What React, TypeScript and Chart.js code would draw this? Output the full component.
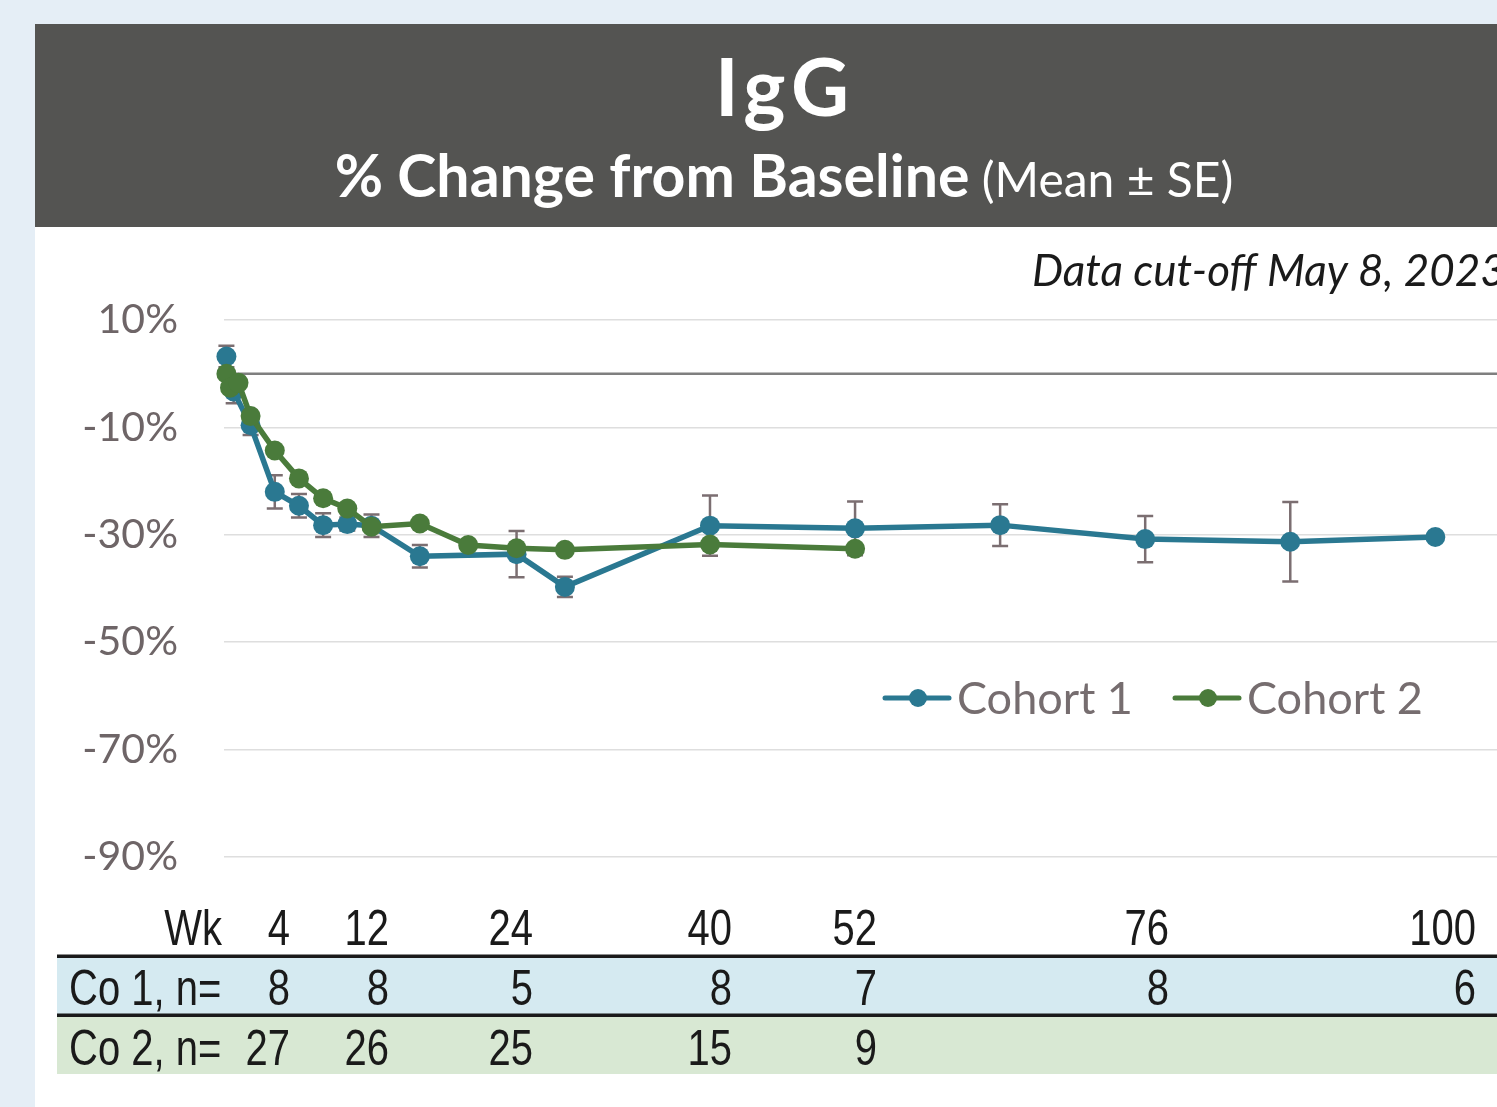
import { useEffect, useRef } from "react";
import { Chart, registerables } from "chart.js";

Chart.register(...registerables);

// ---- data ----
const cohort1Weeks = [0, 0.6, 2, 4, 6, 8, 10, 12, 16, 24, 28, 40, 52, 64, 76, 88, 100];
const cohort1Mean = [3.2, -3.3, -9.6, -22.0, -24.6, -28.2, -28.0, -28.3, -34.0, -33.6, -39.7, -28.3, -28.8, -28.2, -30.8, -31.3, -30.4];
const cohort1SE = [2.0, 2.2, 1.8, 3.1, 2.2, 2.2, 1.2, 2.1, 2.1, 4.3, 1.9, 5.6, 5.0, 3.9, 4.3, 7.4, 0];

const cohort2Weeks = [0, 0.3, 1, 2, 4, 6, 8, 10, 12, 16, 20, 24, 28, 40, 52];
const cohort2Mean = [0, -2.6, -1.7, -7.9, -14.3, -19.5, -23.2, -25.1, -28.5, -27.9, -31.9, -32.5, -32.8, -31.8, -32.6];

const seriesLabels = ["Cohort 1", "Cohort 2"];
const tableWeekLabels = ["4", "12", "24", "40", "52", "76", "100"];
const cohort1N = ["8", "8", "5", "8", "7", "8", "6"];
const cohort2N = ["27", "26", "25", "15", "9", "", ""];

const Y_MIN = -90;
const Y_MAX = 10;
const Y_STEP = 20;

// ---- styles ----
const BLUE = "#2a7891";
const GREEN = "#4a7b3b";
const W = 1497;
const H = 1107;
const FONT = "Lato, 'Open Sans', sans-serif";
const NARROW = "'Liberation Sans', Arial, sans-serif";
const colRight = [290, 389, 533, 732, 877, 1169, 1476];

function narrowText(ctx: CanvasRenderingContext2D, text: string, x: number, y: number, align: CanvasTextAlign) {
  ctx.save();
  ctx.translate(x, y);
  ctx.scale(0.8, 1);
  ctx.textAlign = align;
  ctx.textBaseline = "alphabetic";
  ctx.fillText(text, 0, 0);
  ctx.restore();
}

const backgroundPlugin = {
  id: "pageBackground",
  beforeDraw(chart: any) {
    const ctx: CanvasRenderingContext2D = chart.ctx;
    ctx.save();
    ctx.fillStyle = "#e5eef6";
    ctx.fillRect(0, 0, W, H);
    ctx.fillStyle = "#ffffff";
    ctx.fillRect(35, 227, W - 35, H - 227);
    ctx.fillStyle = "#545452";
    ctx.fillRect(35, 24, W - 35, 203);

    // title
    ctx.fillStyle = "#ffffff";
    ctx.textBaseline = "alphabetic";
    ctx.textAlign = "center";
    ctx.font = `bold 80px ${FONT}`;
    (ctx as any).letterSpacing = "6px";
    ctx.fillText("IgG", 785, 116);
    (ctx as any).letterSpacing = "0px";

    const boldPart = "% Change from Baseline";
    const regPart = " (Mean ± SE)";
    ctx.font = `bold 59px ${FONT}`;
    const w1 = ctx.measureText(boldPart).width;
    ctx.font = `48px ${FONT}`;
    const w2 = ctx.measureText(regPart).width;
    const start = 784 - (w1 + w2) / 2;
    ctx.textAlign = "left";
    ctx.font = `bold 59px ${FONT}`;
    ctx.fillText(boldPart, start, 197);
    ctx.font = `48px ${FONT}`;
    ctx.fillText(regPart, start + w1, 197);

    // cut-off note
    ctx.fillStyle = "#1a1a1a";
    ctx.font = `italic 44px ${FONT}`;
    ctx.fillText("Data cut-off May 8, 2023", 1032, 286);

    // table
    ctx.fillStyle = "#d5eaf1";
    ctx.fillRect(57, 957, W - 57, 57);
    ctx.fillStyle = "#d8e8d3";
    ctx.fillRect(57, 1016, W - 57, 58);
    ctx.fillStyle = "#1a1a1a";
    ctx.fillRect(57, 954.5, W - 57, 3.5);
    ctx.fillRect(57, 1013.5, W - 57, 3.5);

    ctx.fillStyle = "#1a1a1a";
    ctx.font = `50px ${NARROW}`;
    narrowText(ctx, "Wk", 222, 945, "right");
    narrowText(ctx, "Co 1, n=", 69, 1005, "left");
    narrowText(ctx, "Co 2, n=", 69, 1065, "left");
    tableWeekLabels.forEach((t, i) => narrowText(ctx, t, colRight[i], 945, "right"));
    cohort1N.forEach((t, i) => narrowText(ctx, t, colRight[i], 1005, "right"));
    cohort2N.forEach((t, i) => narrowText(ctx, t, colRight[i], 1065, "right"));
    ctx.restore();
  },
};

const zeroAndErrorPlugin = {
  id: "zeroAndError",
  beforeDatasetsDraw(chart: any) {
    const ctx: CanvasRenderingContext2D = chart.ctx;
    const x = chart.scales.x;
    const y = chart.scales.y;
    const area = chart.chartArea;
    ctx.save();
    ctx.strokeStyle = "#7f7f7f";
    ctx.lineWidth = 2.5;
    ctx.beginPath();
    const y0 = y.getPixelForValue(0);
    ctx.moveTo(area.left, y0);
    ctx.lineTo(area.right, y0);
    ctx.stroke();

    ctx.strokeStyle = "#7b6e71";
    ctx.lineWidth = 2.5;
    cohort1Weeks.forEach((w, i) => {
      const se = cohort1SE[i];
      if (!se) return;
      const px = x.getPixelForValue(w);
      const top = y.getPixelForValue(cohort1Mean[i] + se);
      const bot = y.getPixelForValue(cohort1Mean[i] - se);
      ctx.beginPath();
      ctx.moveTo(px, top);
      ctx.lineTo(px, bot);
      ctx.moveTo(px - 8, top);
      ctx.lineTo(px + 8, top);
      ctx.moveTo(px - 8, bot);
      ctx.lineTo(px + 8, bot);
      ctx.stroke();
    });
    ctx.restore();
  },
};

const legendPlugin = {
  id: "customLegend",
  afterDraw(chart: any) {
    const ctx: CanvasRenderingContext2D = chart.ctx;
    const items = [
      { x: 885, color: BLUE, label: seriesLabels[0] },
      { x: 1175, color: GREEN, label: seriesLabels[1] },
    ];
    const yy = 698;
    ctx.save();
    items.forEach((it) => {
      ctx.strokeStyle = it.color;
      ctx.lineWidth = 5;
      ctx.lineCap = "round";
      ctx.beginPath();
      ctx.moveTo(it.x, yy);
      ctx.lineTo(it.x + 64, yy);
      ctx.stroke();
      ctx.fillStyle = it.color;
      ctx.beginPath();
      ctx.arc(it.x + 33, yy, 9, 0, Math.PI * 2);
      ctx.fill();
      ctx.fillStyle = "#766d6f";
      ctx.font = `45px ${FONT}`;
      ctx.textAlign = "left";
      ctx.textBaseline = "middle";
      ctx.fillText(it.label, it.x + 72, yy + 1);
    });
    ctx.restore();
  },
};

export default function App() {
  const ref = useRef<HTMLCanvasElement | null>(null);

  useEffect(() => {
    if (!ref.current) return;
    const chart = new Chart(ref.current, {
      type: "line",
      data: {
        datasets: [
          {
            label: seriesLabels[0],
            data: cohort1Weeks.map((w, i) => ({ x: w, y: cohort1Mean[i] })),
            borderColor: BLUE,
            backgroundColor: BLUE,
            borderWidth: 5.5,
            pointRadius: 10,
            pointBorderWidth: 0,
            pointBackgroundColor: BLUE,
            tension: 0,
            clip: false,
            order: 1,
          },
          {
            label: seriesLabels[1],
            data: cohort2Weeks.map((w, i) => ({ x: w, y: cohort2Mean[i] })),
            borderColor: GREEN,
            backgroundColor: GREEN,
            borderWidth: 5.5,
            pointRadius: 10,
            pointBorderWidth: 0,
            pointBackgroundColor: GREEN,
            tension: 0,
            clip: false,
            order: 0,
          },
        ],
      },
      options: {
        responsive: false,
        animation: false,
        devicePixelRatio: 1,
        layout: { autoPadding: false, padding: { top: 320, bottom: 250, left: 0, right: 0 } },
        plugins: { legend: { display: false }, tooltip: { enabled: false }, title: { display: false } },
        scales: {
          x: {
            type: "linear",
            min: -0.2,
            max: 105.1,
            display: false,
          },
          y: {
            type: "linear",
            min: Y_MIN,
            max: Y_MAX,
            afterFit: (s: any) => {
              s.width = 224;
            },
            ticks: {
              stepSize: Y_STEP,
              padding: 46,
              color: "#6e6567",
              font: { family: FONT, size: 41 },
              callback: (v: any) => `${v}%`,
            },
            grid: { color: "#dedede", lineWidth: 1.5, drawTicks: false },
            border: { display: false },
          },
        },
      },
      plugins: [backgroundPlugin, zeroAndErrorPlugin, legendPlugin],
    });
    return () => chart.destroy();
  }, []);

  return (
    <div style={{ position: "fixed", left: 0, top: 0, width: W, height: H, overflow: "hidden" }}>
      <canvas ref={ref} width={W} height={H} style={{ display: "block", width: W, height: H }} />
    </div>
  );
}
